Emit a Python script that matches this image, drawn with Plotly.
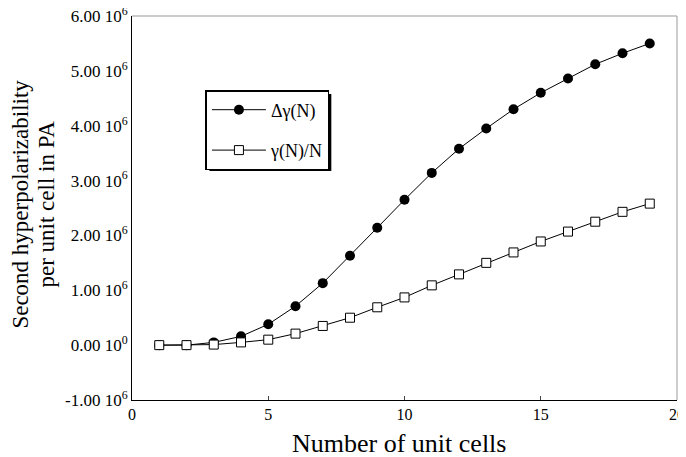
import plotly.graph_objects as go

n_cells = list(range(1, 20))
delta_gamma = [0.0, 0.0, 0.05, 0.16, 0.38, 0.71, 1.13, 1.63, 2.14, 2.65, 3.14, 3.58, 3.95, 4.30, 4.60, 4.86, 5.12, 5.32, 5.50]
gamma_per_n = [0.0, 0.0, 0.01, 0.05, 0.10, 0.21, 0.35, 0.50, 0.69, 0.87, 1.09, 1.29, 1.50, 1.69, 1.89, 2.07, 2.25, 2.43, 2.58]
scale = 1e6
y_tickvals = [-1, 0, 1, 2, 3, 4, 5, 6]
y_ticktext = ["-1.00 10<sup>6</sup>", "0.00 10<sup>0</sup>", "1.00 10<sup>6</sup>", "2.00 10<sup>6</sup>",
              "3.00 10<sup>6</sup>", "4.00 10<sup>6</sup>", "5.00 10<sup>6</sup>", "6.00 10<sup>6</sup>"]
x_tickvals = [0, 5, 10, 15, 20]
y_title_lines = ["Second hyperpolarizability", "per unit cell in PA"]
x_title = "Number of unit cells"

FONT = "Liberation Serif"

# page body has an 8px margin: figure occupies x 8..686, y 8..457
W, H = 678, 449
PL, PR, PT, PB = 123.5, 9, 8, 57   # plot area -> page x 131.5..677, y 16..400
pw = W - PL - PR
ph = H - PT - PB


def px(xpage):
    return (xpage - 8 - PL) / pw


def py(ypage):
    return 1 - (ypage - 8 - PT) / ph


fig = go.Figure()
fig.add_trace(go.Scatter(
    x=n_cells, y=[v * scale for v in delta_gamma], mode="lines+markers",
    name="Δγ(N)", legendgroup="a",
    line=dict(color="black", width=1),
    marker=dict(symbol="circle", size=10, color="black"),
))
fig.add_trace(go.Scatter(
    x=n_cells, y=[v * scale for v in gamma_per_n], mode="lines+markers",
    name="γ(N)/N", legendgroup="b",
    line=dict(color="black", width=1),
    marker=dict(symbol="square", size=9, color="white", line=dict(color="black", width=1)),
))

# legend drop shadow
fig.add_shape(type="rect", xref="paper", yref="paper",
              x0=px(209), x1=px(331), y0=py(171), y1=py(94),
              fillcolor="black", line=dict(width=0), layer="above")
# gray top/right frame
fig.add_shape(type="line", xref="paper", yref="paper", x0=0, x1=1, y0=1, y1=1,
              line=dict(color="#999999", width=1))
fig.add_shape(type="line", xref="paper", yref="paper", x0=1, x1=1, y0=0, y1=1,
              line=dict(color="#999999", width=1))

# axis titles
for text, xpage in zip(y_title_lines, [20, 46]):
    fig.add_annotation(text=text, xref="paper", yref="paper", x=px(xpage), y=py(204),
                       xanchor="center", yanchor="middle", textangle=-90, showarrow=False,
                       font=dict(family=FONT, size=23, color="black"))
fig.add_annotation(text=x_title, xref="paper", yref="paper", x=px(399), y=py(443),
                   xanchor="center", yanchor="middle", showarrow=False,
                   font=dict(family=FONT, size=26, color="black"))

fig.update_layout(
    width=W, height=H,
    margin=dict(l=PL, r=PR, t=PT, b=PB, pad=0, autoexpand=False),
    paper_bgcolor="white", plot_bgcolor="white",
    font=dict(family=FONT, color="black", size=16),
    showlegend=True,
    legend=dict(
        x=px(205), y=py(90), xanchor="left", yanchor="top",
        bgcolor="white", bordercolor="black", borderwidth=1.5,
        font=dict(family=FONT, size=18, color="black"),
        tracegroupgap=14, itemwidth=54,
    ),
    xaxis=dict(
        range=[0, 20], tickvals=x_tickvals, ticks="inside", ticklen=4,
        showgrid=False, zeroline=False, showline=True, linecolor="black", linewidth=1,
        tickfont=dict(family=FONT, size=16), automargin=False, ticklabeloverflow="allow",
    ),
    yaxis=dict(
        range=[-1 * scale, 6 * scale], tickvals=[v * scale for v in y_tickvals], ticktext=y_ticktext,
        ticks="", showgrid=False, zeroline=False, showline=True, linecolor="black", linewidth=1,
        tickfont=dict(family=FONT, size=17), automargin=False, ticklabeloverflow="allow",
    ),
)

fig.write_html("out.html")
